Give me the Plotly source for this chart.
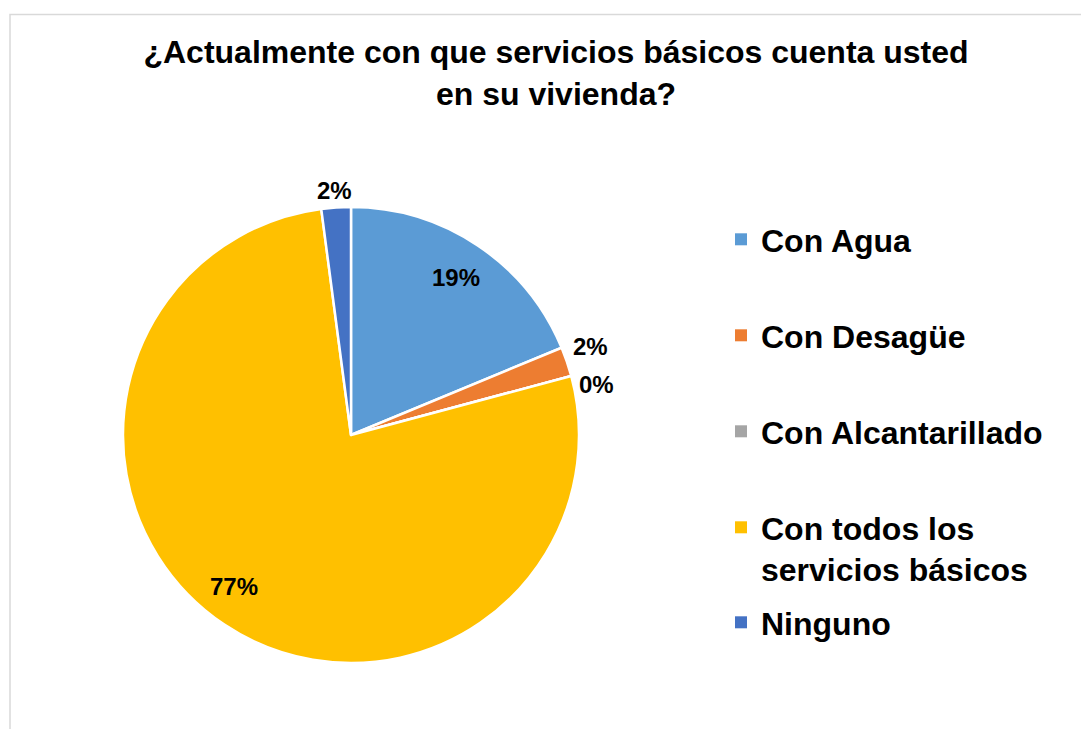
import math
import plotly.graph_objects as go

# Survey answers (counts) and their Excel-style colours.
LABELS = ["Con Agua", "Con Desagüe", "Con Alcantarillado", "Con todos los<br>servicios básicos", "Ninguno"]
VALUES = [18, 2, 0, 74, 2]
COLORS = ["#5B9BD5", "#ED7D31", "#A5A5A5", "#FFC000", "#4472C4"]

# Where each percentage label sits: fraction of the radius, plus a small angular nudge.
LABEL_RADIUS = [0.83, 1.12, 1.10, 0.84, 1.075]
LABEL_NUDGE_DEG = [0, -1.5, 3.5, 4, 0]

TITLE = "¿Actualmente con que servicios básicos cuenta usted<br>en su vivienda?"
FONT = "Arial, 'Liberation Sans', sans-serif"

# The page body has an 8px margin, so the figure is a bit smaller than the window.
OFF = 8
W, H = 1089 - 2 * OFF, 737 - 2 * OFF


def px(x):
    return (x - OFF) / W


def py(y):
    return 1 - (y - OFF) / H


# Pie geometry in window pixels.
CX, CY, R = 351, 435, 228

fig = go.Figure()
fig.add_trace(
    go.Pie(
        labels=LABELS,
        values=VALUES,
        sort=False,
        direction="clockwise",
        rotation=0,
        marker=dict(colors=COLORS, line=dict(color="white", width=2.5)),
        textinfo="none",
        domain=dict(x=[px(CX - R), px(CX + R)], y=[py(CY + R), py(CY - R)]),
        showlegend=False,
        hoverinfo="label+percent",
    )
)

# Percentage labels placed around the slices' mid angles.
total = sum(VALUES)
annotations = []
cum = 0
for v, rf, nudge in zip(VALUES, LABEL_RADIUS, LABEL_NUDGE_DEG):
    mid = (cum + v / 2) / total * 360 + nudge
    cum += v
    a = math.radians(mid)
    lx = CX + rf * R * math.sin(a)
    ly = CY - rf * R * math.cos(a)
    annotations.append(
        dict(
            x=px(lx), y=py(ly), xref="paper", yref="paper",
            text=f"{round(v / total * 100)}%", showarrow=False,
            xanchor="center", yanchor="middle",
            font=dict(family=FONT, size=24, color="black", weight="bold"),
        )
    )

# Legend entries as dummy markers, one legend box each so they sit evenly spaced.
legend_top = [212, 308, 404, 500, 595]
layout_legends = {}
for i, (lab, col) in enumerate(zip(LABELS, COLORS)):
    key = "legend" if i == 0 else f"legend{i + 1}"
    fig.add_trace(
        go.Scatter(
            x=[None], y=[None], mode="markers", name=lab,
            marker=dict(symbol="square", size=12, color=col),
            legend=key, hoverinfo="skip",
        )
    )
    layout_legends[key] = dict(
        x=px(721), y=py(legend_top[i]), xanchor="left", yanchor="top",
        valign="top", bgcolor="rgba(0,0,0,0)",
        font=dict(family=FONT, size=32, color="black", weight="bold"),
    )

fig.update_layout(
    width=W,
    height=H,
    margin=dict(l=0, r=0, t=0, b=0),
    paper_bgcolor="white",
    plot_bgcolor="white",
    xaxis=dict(visible=False),
    yaxis=dict(visible=False),
    title=dict(
        text=TITLE, x=px(556), xanchor="center", y=py(63), yanchor="top",
        font=dict(family=FONT, size=32, color="black", weight="bold"),
    ),
    annotations=annotations,
    shapes=[
        dict(type="rect", xref="paper", yref="paper",
             x0=px(10), x1=1.05, y0=-0.05, y1=py(14.5),
             line=dict(color="#D9D9D9", width=1.5), fillcolor="rgba(0,0,0,0)", layer="below")
    ],
    **layout_legends,
)

fig.write_html("out.html")
